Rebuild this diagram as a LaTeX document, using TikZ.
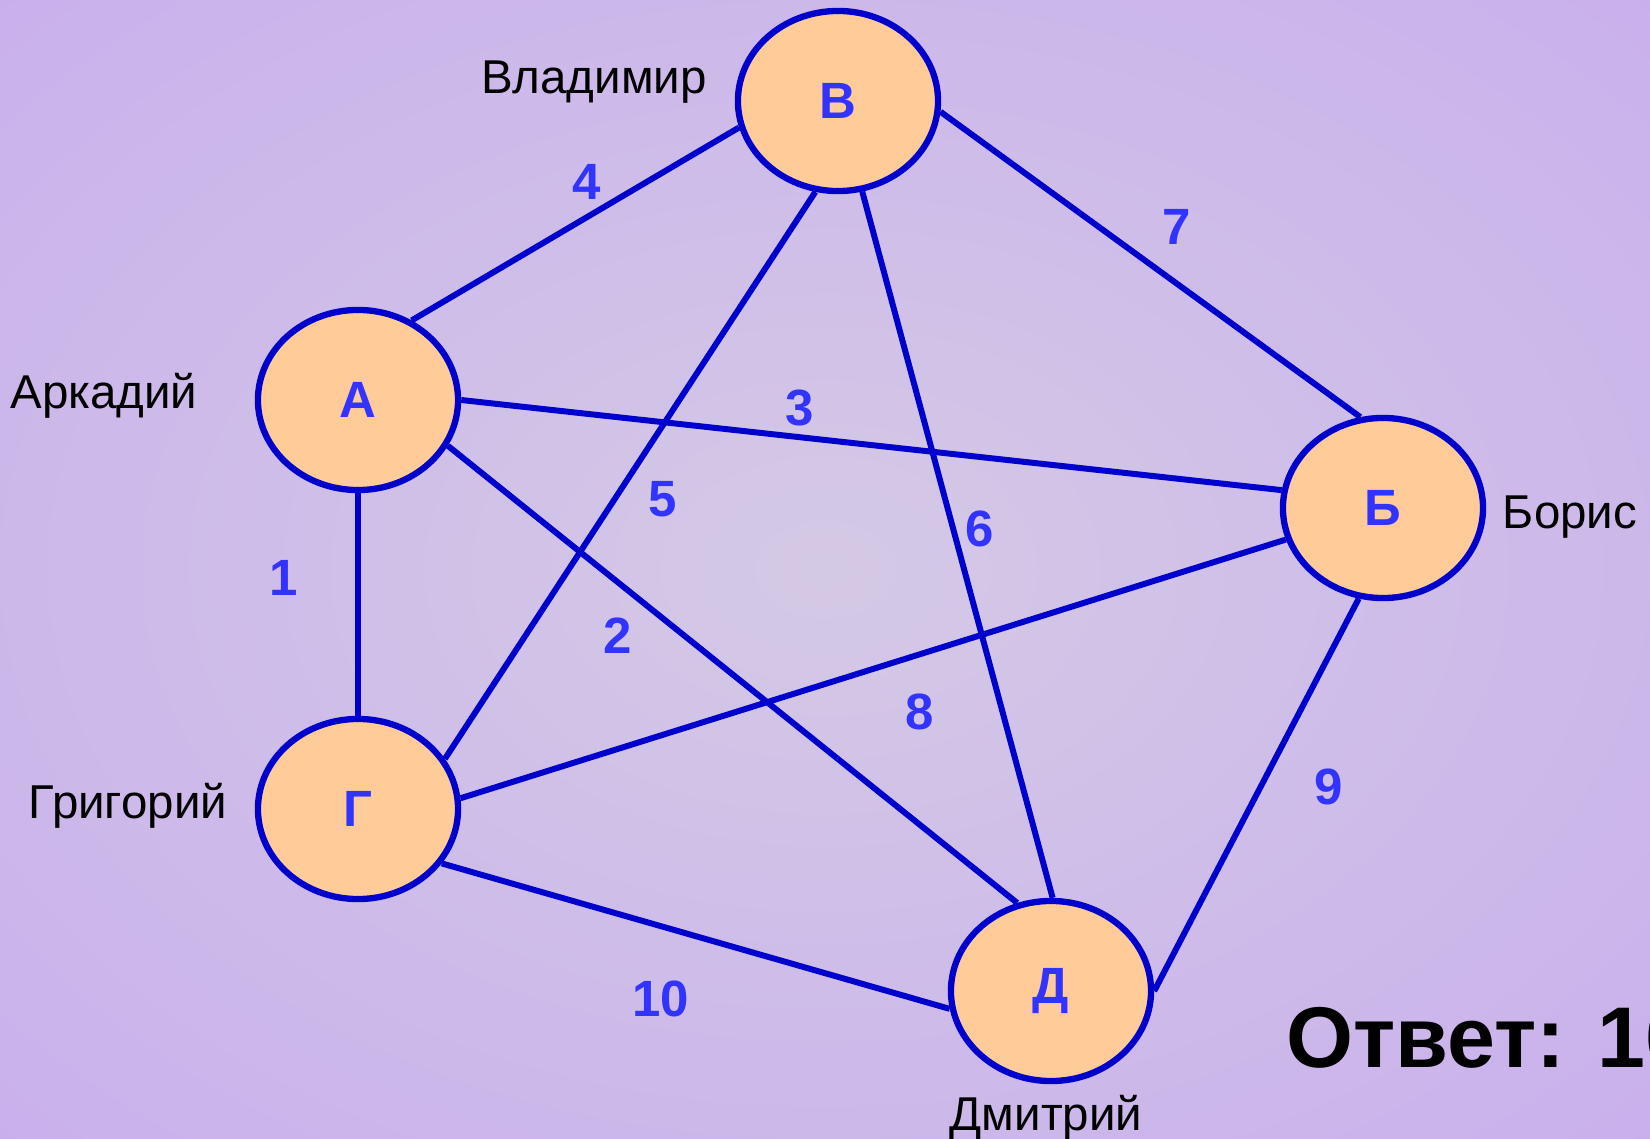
\documentclass[tikz,border=0pt]{standalone}
\usepackage{fontspec}
\setmainfont{Liberation Sans}
\usepackage{xcolor}
\usepackage{tikz}
\usetikzlibrary{shapes.geometric}
\definecolor{bgin}{HTML}{D4C9E5}
\definecolor{bgmid}{HTML}{C5A6F0}
\definecolor{bgout}{HTML}{BA96F5}
\definecolor{peach}{HTML}{FFCC99}
\definecolor{edge}{HTML}{0000CC}
\definecolor{num}{HTML}{3333FF}
\pgfdeclareradialshading{bgglow}{\pgfpointorigin}{color(0bp)=(bgin); color(50bp)=(bgmid); color(71bp)=(bgout)}
\tikzset{
  person/.style={ellipse, draw=edge, fill=peach, line width=1.8pt,
    minimum width=2cm, minimum height=1.8cm, inner sep=0pt,
    text=num, font=\bfseries\fontsize{14.5}{16}\selectfont},
  link/.style={draw=edge, line width=1.7pt},
  wt/.style={text=num, font=\bfseries\fontsize{14.5}{16}\selectfont},
  who/.style={anchor=base, text=black, font=\fontsize{13.5}{15}\selectfont},
  answer/.style={anchor=base west, inner sep=0pt, text=black, font=\bfseries\fontsize{24.5}{28}\selectfont}
}

\begin{document}
\begin{tikzpicture}[x=0.01cm, y=-0.01cm]
  \useasboundingbox (0,0) rectangle (1650,1139);
  \clip (0,0) rectangle (1650,1139);
  \shade[shading=bgglow] (0,0) rectangle (1650,1139);

  % people
  \node[person] (V) at (838,101) {В};
  \node[person] (A) at (358,400) {А};
  \node[person] (B) at (1383,508) {Б};
  \node[person] (G) at (358,809) {Г};
  \node[person] (D) at (1051,991) {Д};

  % roads
  \draw[link] (V.195) -- (A.56);
  \draw[link] (V.256) -- (G.30);
  \draw[link] (V.285) -- (D.89);
  \draw[link] (V.354) -- (B.104);
  \draw[link] (A.0) -- (B.170);
  \draw[link] (A.270) -- (G.90);
  \draw[link] (A.333) -- (D.111);
  \draw[link] (B.198) -- (G.6);
  \draw[link] (B.255) -- (D.0);
  \draw[link] (G.327) -- (D.190);

  % weights
  \node[wt] (w4) at (587,182) {4};
  \node[wt] (w7) at (1177,227) {7};
  \node[wt] (w3) at (800,408) {3};
  \node[wt] (w5) at (663,499) {5};
  \node[wt] (w6) at (980,529) {6};
  \node[wt] (w1) at (284,578) {1};
  \node[wt] (w2) at (618,636) {2};
  \node[wt] (w8) at (920,712) {8};
  \node[wt] (w9) at (1329,787) {9};
  \node[wt] (w10) at (661,999) {10};

  % names
  \node[who] (nV) at (594,93) {Владимир};
  \node[who] (nA) at (104,408) {Аркадий};
  \node[who] (nB) at (1570,528) {Борис};
  \node[who] (nG) at (128,818) {Григорий};
  \node[who] (nD) at (1046,1130) {Дмитрий};

  \node[answer] (ans) at (1286,1067) {Ответ: 10};
\end{tikzpicture}
\end{document}
